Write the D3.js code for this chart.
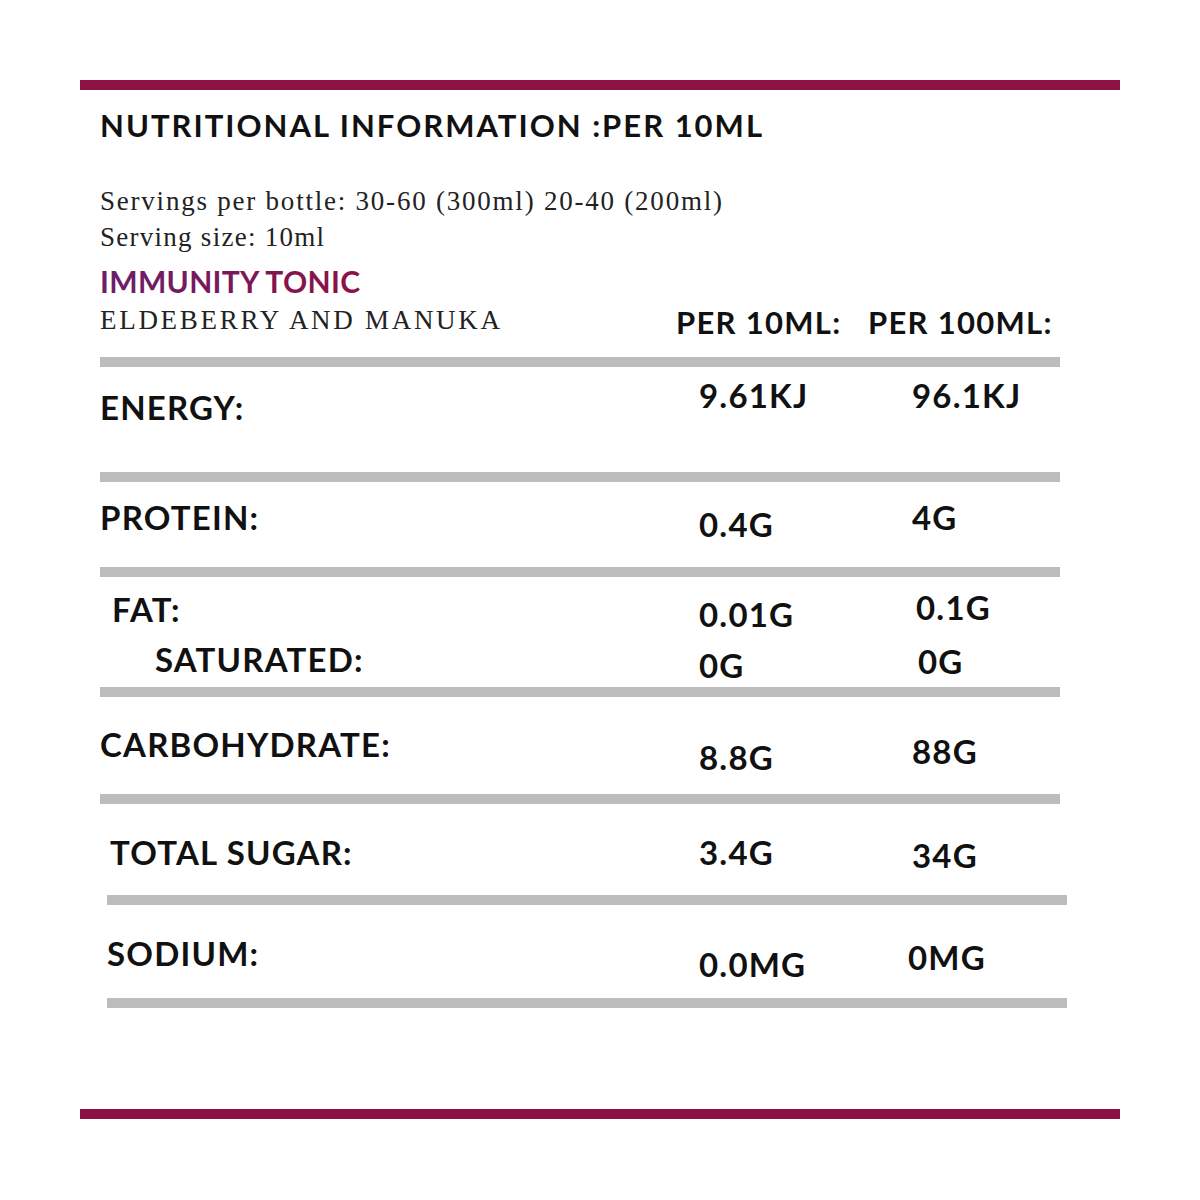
<!DOCTYPE html>
<html><head><meta charset="utf-8">
<script src="https://cdn.jsdelivr.net/npm/d3@7"></script>
<style>body{margin:0;background:#fff}</style></head>
<body><svg id="c" width="1200" height="1200"></svg>
<script>
const labels = ["ENERGY:", "PROTEIN:", "FAT:", "SATURATED:", "CARBOHYDRATE:", "TOTAL SUGAR:", "SODIUM:"];
const per10ml = ["9.61KJ", "0.4G", "0.01G", "0G", "8.8G", "3.4G", "0.0MG"];
const per100ml = ["96.1KJ", "4G", "0.1G", "0G", "88G", "34G", "0MG"];
const headers = ["PER 10ML:", "PER 100ML:"];

// layout (not data)
const labelX = [100, 100, 112, 155, 100, 110, 107];
const labelY = [420, 530, 622, 672, 757, 865, 966];
const v1Y = [408, 537, 627, 678, 770, 865, 977];
const v2X = [912, 912, 916, 918, 912, 912, 908];
const v2Y = [408, 530, 620, 674, 764, 868, 970];
const dividers = [[100,1060,357],[100,1060,472],[100,1060,567],[100,1060,687],[100,1060,794],[107,1067,895],[107,1067,998]];

const svg = d3.select("#c");
const maroon = "#8c1244", grey = "#bdbdbd";
const sans = "Lato, 'Open Sans', sans-serif", serif = "'Liberation Serif', 'DejaVu Serif', serif";

svg.append("rect").attr("x",80).attr("y",80).attr("width",1040).attr("height",10).attr("fill",maroon);
svg.append("rect").attr("x",80).attr("y",1109).attr("width",1040).attr("height",10).attr("fill",maroon);

svg.append("text").attr("x",100).attr("y",137).attr("font-family",sans).attr("font-weight",700)
  .attr("font-size",31).attr("fill","#111").attr("textLength",662).attr("lengthAdjust","spacing")
  .text("NUTRITIONAL INFORMATION :PER 10ML");
svg.append("text").attr("x",100).attr("y",210).attr("font-family",serif).attr("font-size",27).attr("fill","#222")
  .attr("textLength",622).attr("lengthAdjust","spacing")
  .text("Servings per bottle: 30-60 (300ml) 20-40 (200ml)");
svg.append("text").attr("x",100).attr("y",246).attr("font-family",serif).attr("font-size",27).attr("fill","#222")
  .attr("textLength",224).attr("lengthAdjust","spacing")
  .text("Serving size: 10ml");
const defs = svg.append("defs");
const g = defs.append("linearGradient").attr("id","pg");
g.append("stop").attr("offset","0%").attr("stop-color","#6a1f6a");
g.append("stop").attr("offset","100%").attr("stop-color","#8c1244");
svg.append("text").attr("x",100).attr("y",293).attr("font-family",sans).attr("font-weight",700)
  .attr("font-size",30).attr("fill","url(#pg)").attr("textLength",260).attr("lengthAdjust","spacing").text("IMMUNITY TONIC");
svg.append("text").attr("x",100).attr("y",329).attr("font-family",serif).attr("font-size",27).attr("fill","#222")
  .attr("textLength",400).attr("lengthAdjust","spacing")
  .text("ELDEBERRY AND MANUKA");

const colX = [676, 868];
svg.selectAll(".hdr").data(headers).join("text").attr("x",(d,i)=>colX[i]).attr("y",334)
  .attr("font-family",sans).attr("font-weight",700).attr("font-size",31).attr("letter-spacing",1.3)
  .attr("fill","#111").text(d=>d);

svg.selectAll(".div").data(dividers).join("rect").attr("x",d=>d[0]).attr("y",d=>d[2])
  .attr("width",d=>d[1]-d[0]).attr("height",10).attr("fill",grey);

const txt = (data, xs, ys) => svg.append("g").selectAll("text").data(data).join("text")
  .attr("x",(d,i)=>typeof xs==="number"?xs:xs[i]).attr("y",(d,i)=>ys[i])
  .attr("font-family",sans).attr("font-weight",700).attr("font-size",33).attr("letter-spacing",1.2)
  .attr("fill","#111").text(d=>d);
txt(labels, labelX, labelY);
txt(per10ml, 699, v1Y);
txt(per100ml, v2X, v2Y);
</script></body></html>
